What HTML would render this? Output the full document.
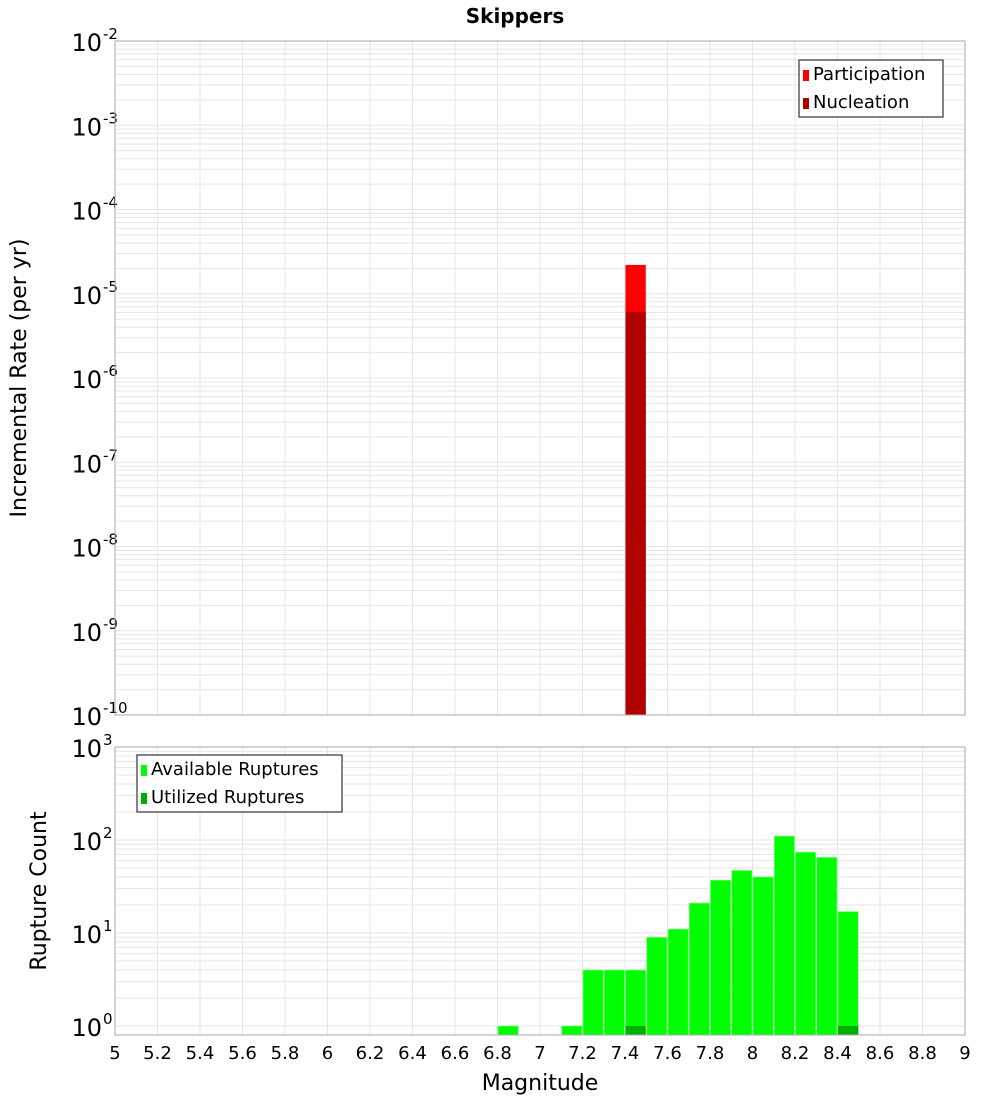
<!DOCTYPE html>
<html><head><meta charset="utf-8"><style>
html,body{margin:0;padding:0;background:#fff;width:1000px;height:1100px;overflow:hidden}
svg{display:block;font-family:"DejaVu Sans","Liberation Sans",sans-serif}
</style></head><body>
<svg id="chart" width="1000" height="1100" xmlns="http://www.w3.org/2000/svg">
<text x="515" y="23" text-anchor="middle" font-size="20" font-weight="bold">Skippers</text>
<text transform="translate(26,378) rotate(-90)" text-anchor="middle" font-size="22">Incremental Rate (per yr)</text>
<text transform="translate(46,891) rotate(-90)" text-anchor="middle" font-size="22">Rupture Count</text>
<text x="540" y="1090" text-anchor="middle" font-size="22">Magnitude</text>
</svg>
<script>
const rateMags = [7.45];
const participation = [2.2e-5];
const nucleation = [6.1e-6];
const countMags = [6.85,7.15,7.25,7.35,7.45,7.55,7.65,7.75,7.85,7.95,8.05,8.15,8.25,8.35,8.45];
const available = [1,1,4,4,4,9,11,21,37,47,40,110,74,65,17];
const utilizedMags = [7.45,8.45];
const utilized = [1,1];
const xTicks = [5,5.2,5.4,5.6,5.8,6,6.2,6.4,6.6,6.8,7,7.2,7.4,7.6,7.8,8,8.2,8.4,8.6,8.8,9];
const topDecades = [-10,-9,-8,-7,-6,-5,-4,-3,-2];
const botDecades = [0,1,2,3];

const NS='http://www.w3.org/2000/svg';
const svg=document.getElementById('chart');
const L=115,R=965;
const x=m=>L+(m-5)/4*(R-L);
const T1=41,B1=715,yTop=v=>T1+(-2-Math.log10(v))/8*(B1-T1);
const T2=747,B2=1035,lo=Math.log10(0.8),yBot=v=>B2-(Math.log10(v)-lo)/(3-lo)*(B2-T2);
function el(tag,attrs,parent){const e=document.createElementNS(NS,tag);for(const k in attrs)e.setAttribute(k,attrs[k]);(parent||svg).appendChild(e);return e;}

function panel(T,B,yf,decs,name){
  const g=el('g',{});
  
  
  for(let d=decs[0];d<decs[decs.length-1];d++){for(let k=1;k<10;k++){const v=k*Math.pow(10,d);const y=yf(v);if(y>B||y<T)continue;
    el('line',{x1:L,x2:R,y1:y,y2:y,stroke:'#e6e6e6','stroke-width':1},g);}}
  xTicks.forEach(t=>{el('line',{x1:x(t),x2:x(t),y1:T,y2:B,stroke:'#e6e6e6','stroke-width':1},g);});
  decs.forEach(d=>{const y=yf(Math.pow(10,d));
    const t=el('text',{x:102,y:y+10,'text-anchor':'end','font-size':24});
    
    
    t.textContent='10';
    const s=el('text',{x:103,y:y-2,'font-size':15});
    
    
    s.textContent=String(d);});
}
panel(T1,B1,yTop,topDecades,'top');
panel(T2,B2,yBot,botDecades,'bottom');

const w=(R-L)/40;
rateMags.forEach((m,i)=>{
  const a=el('rect',{x:x(m)-w/2+0.5,y:yTop(participation[i]),width:w-1,height:B1-yTop(participation[i]),fill:'#ff0000'});
  
  
  const b=el('rect',{x:x(m)-w/2+0.5,y:yTop(nucleation[i]),width:w-1,height:B1-yTop(nucleation[i]),fill:'#b00000'});
  
  
});
countMags.forEach((m,i)=>{
  const r=el('rect',{x:x(m)-w/2+0.5,y:yBot(available[i]),width:w-1,height:B2-yBot(available[i]),fill:'#00ff00',stroke:'#80ff80','stroke-width':0.7});
  
  
});
utilizedMags.forEach((m,i)=>{
  const r=el('rect',{x:x(m)-w/2+0.5,y:yBot(utilized[i]),width:w-1,height:B2-yBot(utilized[i]),fill:'#00b000'});
  
  
});
[[T1,B1,'top-plot-frame'],[T2,B2,'bottom-plot-frame']].forEach(([T,B,n])=>{
  const f=el('rect',{x:L,y:T,width:R-L,height:B-T,fill:'none',stroke:'#aaaaaa','stroke-width':1});
  
  
});
xTicks.forEach(t=>{
  const tx=el('text',{x:x(t),y:1059,'text-anchor':'middle','font-size':18});
  
  
  tx.textContent=String(t);
});
function legend(bx,by,bw,items,name){
  const g=el('g',{});
  
  
  el('rect',{x:bx,y:by,width:bw,height:57,fill:'#fff',stroke:'#333','stroke-width':1.2},g);
  items.forEach((it,i)=>{
    el('rect',{x:bx+4,y:by+10+i*28,width:6,height:11,fill:it[1]},g);
    const t=el('text',{x:bx+14,y:by+20+i*28,'font-size':18},g);
    
    
    t.textContent=it[0];
  });
}
legend(799,60,144,[['Participation','#ff0000'],['Nucleation','#b00000']],'top-legend');
legend(137,755,205,[['Available Ruptures','#00ff00'],['Utilized Ruptures','#00b000']],'bottom-legend');
</script>
</body></html>
